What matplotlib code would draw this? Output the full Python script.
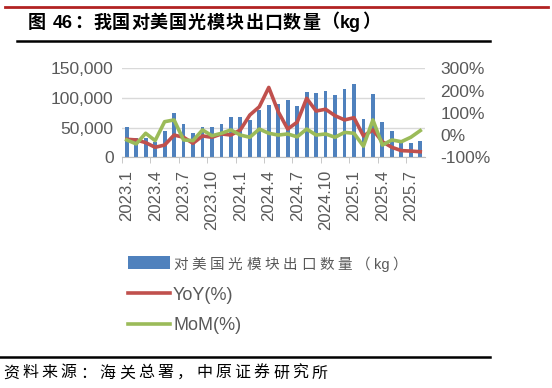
import re
import numpy as np
import matplotlib
matplotlib.use("Agg")
from matplotlib import pyplot as plt
from matplotlib.lines import Line2D
from matplotlib.ticker import FuncFormatter

# data (2023.1 - 2025.8)
months = ["2023.%d" % m for m in range(1, 13)] + ["2024.%d" % m for m in range(1, 13)] + ["2025.%d" % m for m in range(1, 9)]
export_kg = [51300, 32000, 32000, 25000, 44700, 75300, 55300, 41300, 50300, 50300, 55800, 68000,
             68000, 62500, 80300, 88700, 90300, 95800, 85800, 110800, 108500, 112500, 105300, 115500,
             123700, 64800, 107000, 59500, 44200, 28000, 23700, 27700]
yoy = [-19, -22, -34, -55, -45, 0, -10, -37, -4, -10, 5, 0,
       23, 90, 127, 214, 105, 27, 58, 165, 108, 116, 87, 68,
       78, -4, 23, -30, -55, -70, -72, -75]
mom = [-22, -40, 8, -25, 60, 68, -22, -25, 23, -3, 8, 23,
       0, -10, 27, 8, 0, 5, -8, 27, 0, 5, -10, 12,
       8, -50, 68, -45, -22, -30, -10, 20]

title = "图 46：我国对美国光模块出口数量（kg）"
bar_label = "对美国光模块出口数量（kg）"
source = "资料来源：海关总署，中原证券研究所"

plt.rcParams['font.family'] = ['Liberation Sans', 'Noto Sans CJK SC', 'DejaVu Sans']

BLUE = '#4F81BD'
RED = '#C0504D'
GREEN = '#9BBB59'
GREY = '#595959'

W, H = 552, 388
fig = plt.figure(figsize=(W / 100, H / 100), dpi=100)
renderer = fig.canvas.get_renderer()

def fx(px):
    return px / W

def fy(py):
    return 1 - py / H

def spaced_text(x_px, y_px, text, size, gap, **kw):
    """write text token by token, with extra letter spacing like the word export"""
    cur = x_px
    for tok in re.findall(r'[A-Za-z0-9.,()%]+| |.', text):
        t = fig.text(fx(cur), fy(y_px), tok, fontsize=size, va='center', ha='left', **kw)
        cur += t.get_window_extent(renderer).width + gap
    return cur

# decorations: red top rule, title, black rules, source
fig.add_artist(Line2D([fx(5), fx(548)], [fy(7), fy(7)], color='#B22222', lw=2))
spaced_text(28, 23, title, 13, 1.0, fontweight='bold')
fig.add_artist(Line2D([fx(17), fx(490)], [fy(41), fy(41)], color='black', lw=1.8))
fig.add_artist(Line2D([fx(0), fx(490)], [fy(357), fy(357)], color='black', lw=1.8))
spaced_text(3, 373, source, 11.5, 3.3)

ax = fig.add_axes([fx(122), fy(157.3), fx(425) - fx(122), fy(68.3) - fy(157.3)])
x = np.arange(len(months))
bars = ax.bar(x, export_kg, width=0.4, color=BLUE, zorder=2)
ax.set_xlim(-0.5, len(months) - 0.5)
ax.set_ylim(0, 150000)
ax.set_yticks([0, 50000, 100000, 150000])
ax.yaxis.set_major_formatter(FuncFormatter(lambda v, p: "{:,.0f}".format(v)))
ax.grid(axis='y', color='#D9D9D9', lw=1, zorder=0)
for s in ['top', 'left', 'right']:
    ax.spines[s].set_visible(False)
ax.spines['bottom'].set_color('#BFBFBF')
ax.tick_params(axis='y', length=0, labelsize=12.5, labelcolor=GREY, pad=6)
ax.set_xticks(x[::3])
ax.set_xticklabels(months[::3], rotation=90, fontsize=12, color=GREY)
ax.set_xticks(np.arange(-0.5, len(months) - 1, 3), minor=True)
ax.tick_params(axis='x', which='major', length=0, pad=9)
ax.tick_params(axis='x', which='minor', length=4, color='#BFBFBF')

ax2 = ax.twinx()
ax2.plot(x, np.array(yoy) / 100, color=RED, lw=2.6, zorder=3)
ax2.plot(x, np.array(mom) / 100, color=GREEN, lw=2.6, zorder=4)
ax2.set_ylim(-1, 3)
ax2.set_yticks([-1, 0, 1, 2, 3])
ax2.yaxis.set_major_formatter(FuncFormatter(lambda v, p: "{:.0f}%".format(v * 100)))
ax2.tick_params(axis='y', length=0, labelsize=12.5, labelcolor=GREY, pad=11)
for s in ['top', 'left', 'right', 'bottom']:
    ax2.spines[s].set_visible(False)

handles = [bars, ax2.lines[0], ax2.lines[1]]
labels = ["Yy", "YoY(%)", "MoM(%)"]
leg = fig.legend(handles, labels, loc='upper left', bbox_to_anchor=(fx(128), fy(256)),
                 frameon=False, fontsize=13, handlelength=2.3, handletextpad=0.2,
                 labelspacing=0.76, borderpad=0, borderaxespad=0)
for t in leg.get_texts():
    t.set_color(GREY)

# the bar label is drawn spaced, in the slot the legend keeps for it
fig.canvas.draw()
leg.get_texts()[0].set_alpha(0)
slot = leg.get_texts()[1].get_window_extent(renderer)
row = leg.get_texts()[0].get_window_extent(renderer)
spaced_text(slot.x0, H - (row.y0 + row.y1) / 2, bar_label, 10.5, 3.6, color=GREY)

fig.savefig("out.png", dpi=100)
